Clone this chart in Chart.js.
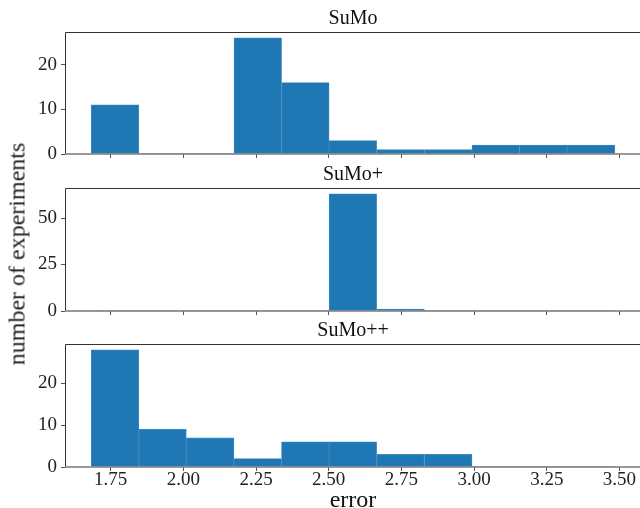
<!DOCTYPE html>
<html>
<head>
<meta charset="utf-8">
<script src="https://cdn.jsdelivr.net/npm/chart.js@4.4.1/dist/chart.umd.min.js"></script>
<style>
  html, body { margin: 0; padding: 0; background: #fff; width: 640px; height: 508px; overflow: hidden; }
  canvas { position: absolute; left: 0; }
  #ylab {
    position: absolute; left: 17px; top: 254px;
    transform: translate(-50%, -50%) rotate(-90deg);
    font: 24px "Liberation Serif", serif; color: #222; white-space: nowrap;
  }
</style>
</head>
<body>
<canvas id="c1" width="644" height="170" style="top:0px"></canvas>
<canvas id="c2" width="644" height="171" style="top:156px"></canvas>
<canvas id="c3" width="644" height="208" style="top:312px"></canvas>
<div id="ylab">number of experiments</div>
<script>
// histogram bins (edges)
const binEdges = [1.683, 1.847, 2.010, 2.174, 2.338, 2.501, 2.665, 2.829, 2.993, 3.156, 3.320, 3.484];

// counts per bin
const sumo         = [11, 0, 0, 26, 16, 3, 1, 1, 2, 2, 2];
const sumoPlus     = [0, 0, 0, 0, 0, 63, 1, 0, 0, 0, 0];
const sumoPlusPlus = [28, 9, 7, 2, 6, 6, 3, 3, 0, 0, 0];

const titles = ["SuMo", "SuMo+", "SuMo++"];

const xTicks = [1.75, 2.00, 2.25, 2.50, 2.75, 3.00, 3.25, 3.50];
const yTicks1 = [0, 10, 20];
const yTicks2 = [0, 25, 50];
const yTicks3 = [0, 10, 20];

const xMin = 1.593, xMax = 3.574;
const serif = '"Liberation Serif", "Times New Roman", serif';

// matplotlib-like box around the axes
const frame = {
  id: "frame",
  afterDatasetsDraw(chart) {
    const a = chart.chartArea, ctx = chart.ctx;
    ctx.save();
    ctx.strokeStyle = "#333";
    ctx.lineWidth = 1;
    ctx.beginPath();
    ctx.moveTo(a.left + 0.5, a.bottom);
    ctx.lineTo(a.left + 0.5, a.top + 0.5);
    ctx.lineTo(a.right - 0.5, a.top + 0.5);
    ctx.lineTo(a.right - 0.5, a.bottom);
    ctx.stroke();
    ctx.strokeStyle = "#777";
    ctx.lineWidth = 1.5;
    ctx.beginPath();
    ctx.moveTo(a.left, a.bottom);
    ctx.lineTo(a.right, a.bottom);
    ctx.stroke();
    ctx.restore();
  }
};

function makePanel(id, title, counts, yTicks, xHeight, showX) {
  const centers = counts.map((c, i) => (binEdges[i] + binEdges[i + 1]) / 2);
  const ymax = Math.max(...counts) * 1.05;
  new Chart(document.getElementById(id), {
    type: "bar",
    data: {
      datasets: [{
        data: counts.map((c, i) => ({ x: centers[i], y: c })),
        backgroundColor: "#1f77b4",
        borderColor: "#3e8cc6",
        borderWidth: ctx => (ctx.raw && ctx.raw.y > 0 ? 0.8 : 0),
        barPercentage: 1,
        categoryPercentage: 1
      }]
    },
    options: {
      responsive: false,
      animation: false,
      layout: { autoPadding: false, padding: { left: 0, right: 3, top: 0, bottom: 0 } },
      plugins: {
        legend: { display: false },
        tooltip: { enabled: false },
        title: {
          display: true,
          fullSize: false,
          text: title,
          color: "#111",
          font: { family: serif, size: 20, weight: "normal", lineHeight: 1 },
          padding: { top: 9, bottom: 3 }
        }
      },
      scales: {
        x: {
          type: "linear",
          min: xMin,
          max: xMax,
          offset: false,
          afterBuildTicks: s => { s.ticks = xTicks.map(v => ({ value: v })); },
          afterFit: s => { s.height = xHeight; },
          border: { display: false },
          grid: { offset: false, drawOnChartArea: false, drawTicks: true, tickLength: 4, color: "#555" },
          ticks: {
            display: showX,
            padding: 0,
            maxRotation: 0,
            autoSkip: false,
            color: "#222",
            font: { family: serif, size: 19, lineHeight: 1 },
            callback: v => v.toFixed(2)
          },
          title: {
            display: showX,
            text: "error",
            color: "#111",
            font: { family: serif, size: 24, lineHeight: 1.2 },
            padding: { top: 0, bottom: 5 }
          }
        },
        y: {
          min: 0,
          max: ymax,
          afterBuildTicks: s => { s.ticks = yTicks.map(v => ({ value: v })); },
          afterFit: s => { s.width = 65; },
          border: { display: false },
          grid: { drawOnChartArea: false, drawTicks: true, tickLength: 4, color: "#555" },
          ticks: {
            padding: 4,
            color: "#222",
            font: { family: serif, size: 19, lineHeight: 1 }
          }
        }
      }
    },
    plugins: [frame]
  });
}

makePanel("c1", titles[0], sumo, yTicks1, 16, false);
makePanel("c2", titles[1], sumoPlus, yTicks2, 16, false);
makePanel("c3", titles[2], sumoPlusPlus, yTicks3, 53, true);
</script>
</body>
</html>
